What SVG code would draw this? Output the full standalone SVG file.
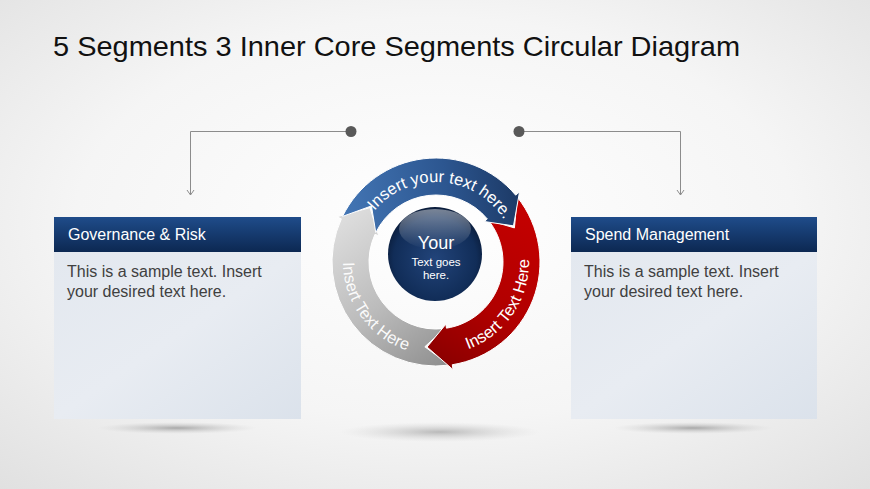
<svg xmlns="http://www.w3.org/2000/svg" width="870" height="489" viewBox="0 0 870 489">
<defs>
<radialGradient id="bg" cx="50%" cy="45%" r="75%">
<stop offset="0" stop-color="#ffffff"/>
<stop offset="0.55" stop-color="#f5f5f5"/>
<stop offset="1" stop-color="#e0e0e0"/>
</radialGradient>
<linearGradient id="hdr" x1="0" y1="0" x2="0" y2="1">
<stop offset="0" stop-color="#1f4c8a"/>
<stop offset="1" stop-color="#0c2852"/>
</linearGradient>
<linearGradient id="body" x1="0" y1="0" x2="1" y2="1">
<stop offset="0" stop-color="#e3e8ef"/>
<stop offset="0.5" stop-color="#e8ecf2"/>
<stop offset="1" stop-color="#dbe2eb"/>
</linearGradient>
<linearGradient id="gBlue" gradientUnits="userSpaceOnUse" x1="340" y1="225" x2="522" y2="205">
<stop offset="0" stop-color="#4477b6"/>
<stop offset="0.6" stop-color="#2c5690"/>
<stop offset="1" stop-color="#1c3965"/>
</linearGradient>
<linearGradient id="gRed" gradientUnits="userSpaceOnUse" x1="530" y1="210" x2="440" y2="365">
<stop offset="0" stop-color="#c40000"/>
<stop offset="0.6" stop-color="#b00000"/>
<stop offset="1" stop-color="#8a0000"/>
</linearGradient>
<linearGradient id="gGray" gradientUnits="userSpaceOnUse" x1="345" y1="220" x2="450" y2="365">
<stop offset="0" stop-color="#dcdcdc"/>
<stop offset="0.5" stop-color="#bcbcbc"/>
<stop offset="1" stop-color="#8e8e8e"/>
</linearGradient>
<radialGradient id="gCore" cx="50%" cy="55%" r="55%">
<stop offset="0" stop-color="#22447a"/>
<stop offset="0.8" stop-color="#112d58"/>
<stop offset="1" stop-color="#0a1c3a"/>
</radialGradient>
<linearGradient id="gShine" x1="0" y1="0" x2="0" y2="1">
<stop offset="0" stop-color="#ffffff" stop-opacity="0.45"/>
<stop offset="1" stop-color="#ffffff" stop-opacity="0"/>
</linearGradient>
<radialGradient id="shadow" cx="50%" cy="50%" r="50%">
<stop offset="0" stop-color="#8a8a8a" stop-opacity="0.7"/>
<stop offset="0.5" stop-color="#a8a8a8" stop-opacity="0.35"/>
<stop offset="1" stop-color="#c8c8c8" stop-opacity="0"/>
</radialGradient>
<marker id="arr" markerWidth="10" markerHeight="10" refX="8" refY="5" orient="auto" markerUnits="userSpaceOnUse" viewBox="0 0 10 10">
<path d="M3,1.5 L8,5 L3,8.5" fill="none" stroke="#8c8c8c" stroke-width="1"/>
</marker>
<path id="tpBlue" d="M362.92,229.46 A80,80 0 0 1 512.90,239.95"/>
<path id="tpRed" d="M419.85,353.59 A93,93 0 0 0 514.87,212.72"/>
<path id="tpGray" d="M355.46,215.5 A93,93 0 0 0 455.34,352.97"/>
</defs>
<style>
.t{font-family:"Liberation Sans",Arial,sans-serif}
.hd{font-size:16px;fill:#ffffff}
.bd{font-size:16px;fill:#404040}
.seg{stroke:#ffffff;stroke-width:1}
.st{font-size:16.5px;fill:#ffffff}
.ln{fill:none;stroke:#8c8c8c;stroke-width:1}
.dot{fill:#595959}
</style>
<rect x="0" y="0" width="870" height="489" fill="url(#bg)"/>
<g id="title">
<text class="t" x="53" y="56" font-size="28" fill="#111111" textLength="687" lengthAdjust="spacingAndGlyphs">5 Segments 3 Inner Core Segments Circular Diagram</text>
</g>
<g id="shadows">
<ellipse cx="177" cy="428" rx="80" ry="6" fill="url(#shadow)"/>
<ellipse cx="693" cy="428" rx="80" ry="6" fill="url(#shadow)"/>
<ellipse cx="440" cy="432" rx="100" ry="10" fill="url(#shadow)" opacity="0.8"/>
</g>
<g id="connectors">
<path class="ln" d="M351,131.5 H190.5 V195" marker-end="url(#arr)"/>
<path class="ln" d="M519,131.5 H680.5 V195" marker-end="url(#arr)"/>
<circle class="dot" cx="351" cy="131.5" r="5.5"/>
<circle class="dot" cx="519" cy="131.5" r="5.5"/>
</g>
<g id="box-left">
<rect x="54" y="252" width="247" height="167" fill="url(#body)"/>
<rect x="54" y="217" width="247" height="35" fill="url(#hdr)"/>
<text class="t hd" x="68" y="240">Governance &amp; Risk</text>
<text class="t bd" x="67" y="277">This is a sample text. Insert</text>
<text class="t bd" x="67" y="297">your desired text here.</text>
</g>
<g id="box-right">
<rect x="571" y="252" width="246" height="167" fill="url(#body)"/>
<rect x="571" y="217" width="246" height="35" fill="url(#hdr)"/>
<text class="t hd" x="585" y="240">Spend Management</text>
<text class="t bd" x="584" y="277">This is a sample text. Insert</text>
<text class="t bd" x="584" y="297">your desired text here.</text>
</g>
<g id="seg-gray">
<path class="seg" fill="url(#gGray)" d="M449.58,365.11 A104,104 0 0 1 341.36,218.87 L336.81,216.80 L370.03,207.62 L378.67,235.87 L375.03,234.22 A67,67 0 0 0 444.75,328.43 L424.84,346.77 Z"/>
<text class="t st" fill-opacity="0.95"><textPath href="#tpGray" startOffset="50%" text-anchor="middle">Insert Text Here</textPath></text>
</g>
<g id="seg-red">
<path class="seg" fill="url(#gRed)" d="M517.39,197.26 A104,104 0 0 1 452.27,364.72 L453.05,369.66 L427.06,347.03 L445.86,324.22 L446.48,328.18 A67,67 0 0 0 488.43,220.29 L514.41,227.91 Z"/>
<text class="t st"><textPath href="#tpRed" startOffset="50%" text-anchor="middle">Insert Text Here</textPath></text>
</g>
<g id="seg-blue">
<path class="seg" fill="url(#gBlue)" d="M342.53,216.41 A104,104 0 0 1 515.67,195.15 L519.50,191.94 L513.49,225.87 L484.26,221.50 L487.32,218.93 A67,67 0 0 0 375.78,232.63 L371.47,205.91 Z"/>
<text class="t st"><textPath href="#tpBlue" startOffset="50%" text-anchor="middle">Insert your text here.</textPath></text>
</g>
<g id="core">
<circle cx="435" cy="254" r="47" fill="url(#gCore)"/>
<ellipse cx="435" cy="229" rx="36" ry="20" fill="url(#gShine)"/>
<text class="t" x="436" y="249" font-size="18" fill="#ffffff" text-anchor="middle">Your</text>
<text class="t" x="436" y="266" font-size="11.5" fill="#ffffff" text-anchor="middle">Text  goes</text>
<text class="t" x="436" y="279" font-size="11.5" fill="#ffffff" text-anchor="middle">here.</text>
</g>
</svg>
